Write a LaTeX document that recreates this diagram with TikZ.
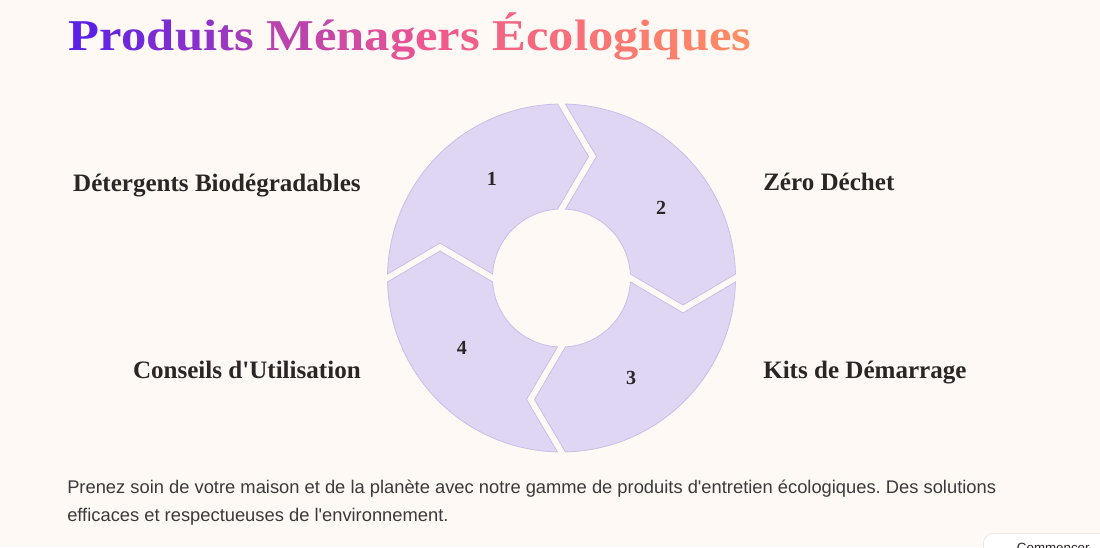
\documentclass[tikz,border=0pt]{standalone}
\usepackage{fontspec}
\setmainfont{Liberation Serif}
\setsansfont{Liberation Sans}
\usetikzlibrary{calc}
\frenchspacing

\definecolor{pagebg}{HTML}{FFF9F6}
\definecolor{segfill}{HTML}{DFD6F3}
\definecolor{segline}{HTML}{C9BFE8}
\definecolor{inkdark}{HTML}{2B2626}
\definecolor{bodyink}{HTML}{3A3A3A}
\definecolor{titleA}{HTML}{5B21E6}
\definecolor{titleB}{HTML}{F0568F}
\definecolor{titleC}{HTML}{FF8C62}

% letter by letter gradient for the title
\newcount\titleidx
\newcommand{\gradword}[1]{\gradloop#1\relax}
\def\gradloop#1{\ifx#1\relax\else\gradletter{#1}\expandafter\gradloop\fi}
\newcommand{\gradletter}[1]{%
  \pgfmathsetmacro\gradt{\the\titleidx/28}%
  \ifdim\gradt pt<0.5pt
    \pgfmathsetmacro\gradp{200*\gradt}\textcolor{titleB!\gradp!titleA}{#1}%
  \else
    \pgfmathsetmacro\gradp{200*(\gradt-0.5)}\textcolor{titleC!\gradp!titleB}{#1}%
  \fi
  \global\advance\titleidx by 1\relax}
\newcommand{\gradspace}{\space\global\advance\titleidx by 1\relax}

\begin{document}
\begin{tikzpicture}[x=0.75pt, y=-0.75pt,
  segment/.style={fill=segfill, draw=segline, line width=0.6pt},
  stepnum/.style={font=\fontsize{15}{17}\selectfont\bfseries, text=inkdark},
  steplabel/.style={font=\fontsize{18.8}{22}\selectfont\bfseries, text=inkdark, inner sep=0pt},
  bodytext/.style={font=\sffamily\fontsize{13.75}{21}\selectfont, text=bodyink, align=left, inner sep=0pt},
  startbtn/.style={draw=gray!25, fill=white, rounded corners=8pt, font=\sffamily\fontsize{10}{12}\selectfont,
                   text=inkdark, inner xsep=11pt, inner ysep=7.5pt, minimum width=105pt}
]
\useasboundingbox[fill=pagebg] (0,0) rectangle (1100,547);

% title
\node[font=\fontsize{33}{38}\selectfont\bfseries, anchor=base west, inner sep=0pt, xscale=1.15] (title) at (68,50)
  {\global\titleidx=0 \gradword{Produits}\gradspace\gradword{Ménagers}\gradspace\gradword{Écologiques}};

% cycle
\def\Rout{174} \def\Rin{69} \def\Rmid{121.5} \def\tipd{31} \def\gap{4}
\def\dout{1.3} \def\din{3.3}
\pgfmathsetmacro\tipin{\tipd+\gap}
\pgfmathsetmacro\tipout{\tipd-\gap}
\begin{scope}[shift={(561.5,278)}]
\foreach \a/\n in {180/1, 270/2, 0/3, 90/4} {
  \pgfmathsetmacro\b{\a+90}
  \draw[segment] (\a+\dout:\Rout) arc[start angle=\a+\dout, end angle=\b-\dout, radius=\Rout]
    -- ($(\b:\Rmid)+(\b+90:\tipout)$)
    -- (\b-\din:\Rin) arc[start angle=\b-\din, end angle=\a+\din, radius=\Rin]
    -- ($(\a:\Rmid)+(\a+90:\tipin)$) -- cycle;
  \node[stepnum] (num\n) at (\a+55:\Rmid) {\n};
}
\end{scope}

% labels
\node[steplabel, anchor=base east] (lab1) at (361,191) {Détergents Biodégradables};
\node[steplabel, anchor=base west] (lab2) at (763,190) {Zéro Déchet};
\node[steplabel, anchor=base west] (lab3) at (763,378) {Kits de Démarrage};
\node[steplabel, anchor=base east] (lab4) at (361,378) {Conseils d\textquotesingle Utilisation};

% intro text
\node[bodytext, anchor=north west] (intro) at (67,480)
  {Prenez soin de votre maison et de la planète avec notre gamme de produits d\textquotesingle entretien écologiques. Des solutions\\
   efficaces et respectueuses de l\textquotesingle environnement.};

\node[startbtn, anchor=north west] (start) at (983,533) {Commencer};
\end{tikzpicture}
\end{document}
